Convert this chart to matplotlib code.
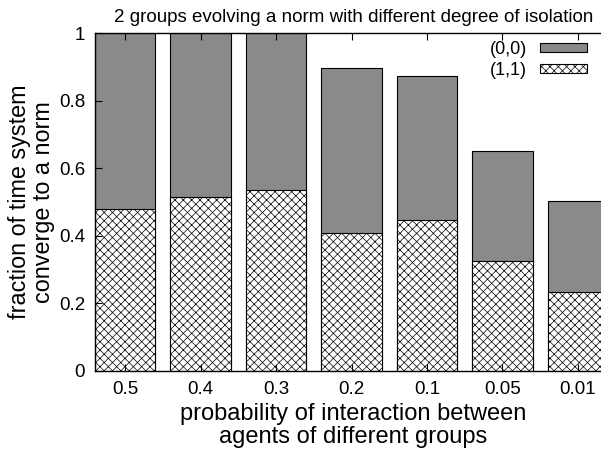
import matplotlib
matplotlib.use("Agg")
import matplotlib.pyplot as plt
import numpy as np

# probability of interaction between groups
categories = ["0.5", "0.4", "0.3", "0.2", "0.1", "0.05", "0.01"]
# total fraction converged (top of the grey bar)
total_conv = [1.0, 1.0, 1.0, 0.898, 0.874, 0.652, 0.504]
# fraction converged to (1,1)
conv_11 = [0.480, 0.515, 0.536, 0.409, 0.448, 0.325, 0.235]
ytick_vals = [0, 0.2, 0.4, 0.6, 0.8, 1]
ytick_labels = ["0", "0.2", "0.4", "0.6", "0.8", "1"]

plt.rcParams["font.family"] = ["Liberation Sans", "DejaVu Sans"]
plt.rcParams["hatch.linewidth"] = 0.5
plt.rcParams["hatch.color"] = "black"


def main():
    fig = plt.figure(figsize=(6.01, 4.54), dpi=100)
    ax = fig.add_axes([0.158, 0.183, 0.860, 0.744])

    x = np.arange(len(categories))
    ax.bar(x, total_conv, width=0.8, color="#8a8a8a", edgecolor="black",
           linewidth=0.8, label="(0,0)")
    ax.bar(x, conv_11, width=0.8, color="white", edgecolor="black",
           linewidth=0.8, hatch="xxxx", label="(1,1)")

    ax.set_xlim(-0.4, 6.45)
    ax.set_ylim(0, 1)
    ax.set_xticks(x)
    ax.set_xticklabels(categories, fontsize=13.5)
    ax.set_yticks(ytick_vals)
    ax.set_yticklabels(ytick_labels, fontsize=13.5)
    ax.tick_params(direction="in", top=True, right=True, length=5, pad=7)
    for s in ax.spines.values():
        s.set_linewidth(1.0)

    ax.set_xlabel("probability of interaction between\nagents of different groups",
                  fontsize=17, labelpad=4, linespacing=1.05)
    ax.set_ylabel("fraction of time system\nconverge to a norm",
                  fontsize=16.8, labelpad=3, linespacing=1.05)
    ax.set_title("2 groups evolving a norm with different degree of isolation",
                 fontsize=13.5, pad=8)

    ax.legend(loc="upper right", bbox_to_anchor=(1.003, 0.945),
              bbox_transform=fig.transFigure, frameon=False, fontsize=13,
              markerfirst=False, handlelength=2.6, handleheight=0.4,
              labelspacing=0.22, handletextpad=0.7)

    fig.savefig("out.png", dpi=100)


if __name__ == "__main__":
    main()
